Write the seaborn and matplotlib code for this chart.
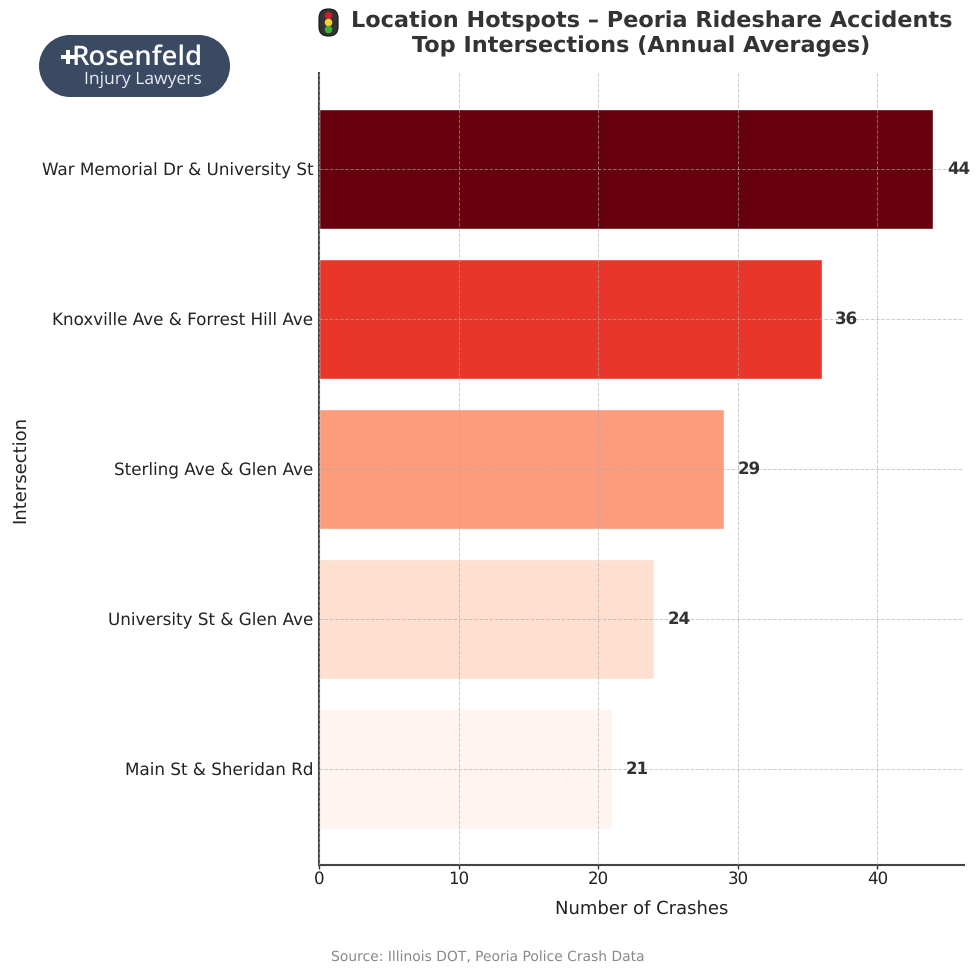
import pandas as pd
import matplotlib.pyplot as plt
import seaborn as sns
from matplotlib.patches import Circle, Rectangle, FancyBboxPatch

intersections = ["War Memorial Dr & University St", "Knoxville Ave & Forrest Hill Ave",
                 "Sterling Ave & Glen Ave", "University St & Glen Ave", "Main St & Sheridan Rd"]
crashes = [44, 36, 29, 24, 21]
bar_colors = ["#67000d", "#e9362b", "#fc9c7d", "#fedfd0", "#fff5f0"]

W = H = 980
df = pd.DataFrame({"Intersection": intersections, "Crashes": crashes})

sns.set_theme(style="white")
plt.rcParams['font.family'] = ['DejaVu Sans']
plt.rcParams['text.hinting'] = 'no_hinting'

fig = plt.figure(figsize=(9.8, 9.8), dpi=100)
ax = fig.add_axes([319 / W, 1 - 865 / H, 645 / W, 792 / H])

sns.barplot(data=df, x="Crashes", y="Intersection", hue="Intersection",
            palette=bar_colors, width=0.805, saturation=1, legend=False, ax=ax)

ax.set_xlim(0, 46.2)
ax.set_ylim(4.64, -0.64)
ax.set_axisbelow(False)
ax.grid(True, color="#aaaaaa", linestyle="--", linewidth=0.7, alpha=0.6)
ax.set_xticks([0, 10, 20, 30, 40])
ax.tick_params(axis="x", labelsize=12, length=3, width=1, color="#333333",
               labelcolor="#222222", bottom=True, pad=1.5)
ax.tick_params(axis="y", labelsize=12.1, length=0, labelcolor="#222222", left=False, pad=4)
ax.set_xlabel("Number of Crashes", fontsize=13, color="#222222")
ax.set_ylabel("Intersection", fontsize=13, color="#222222")
ax.xaxis.set_label_coords(0.5, -35 / 792)
ax.yaxis.set_label_coords(-290 / 645, 0.5)
sns.despine(ax=ax)
for side in ["left", "bottom"]:
    ax.spines[side].set_color("#444444")
    ax.spines[side].set_linewidth(1.5)

for i, val in enumerate(crashes):
    ax.text(val + 0.97, i, str(val), va="center", ha="left", fontsize=12,
            fontweight="bold", color="#333333")

# title and source
fig.text(652 / W, 1 - 21 / H, "Location Hotspots – Peoria Rideshare Accidents", ha="center", va="center",
         fontsize=16.1, fontweight="bold", color="#333333")
fig.text(641 / W, 1 - 46 / H, "Top Intersections (Annual Averages)", ha="center", va="center",
         fontsize=16.1, fontweight="bold", color="#333333")
fig.text(488 / W, 1 - 958 / H, "Source: Illinois DOT, Peoria Police Crash Data", ha="center", va="center",
         fontsize=10, color="#888888")

# overlay in pixel coordinates for logo and traffic light
over = fig.add_axes([0, 0, 1, 1], facecolor="none")
over.set_xlim(0, W)
over.set_ylim(H, 0)
over.axis("off")

logo_color = "#3a4a63"
over.add_patch(Rectangle((70, 35), 129, 62, facecolor=logo_color, edgecolor="none"))
over.add_patch(Circle((70, 66), 31, facecolor=logo_color, edgecolor="none"))
over.add_patch(Circle((199, 66), 31, facecolor=logo_color, edgecolor="none"))
over.add_patch(Rectangle((61, 55), 14, 4, facecolor="white", edgecolor="none"))
over.add_patch(Rectangle((66, 50), 4, 14, facecolor="white", edgecolor="none"))
over.text(71, 58, "Rosenfeld", fontsize=19.7, fontweight="semibold", color="white",
          ha="left", va="center", family="Open Sans")
over.text(202, 80, "Injury Lawyers", fontsize=12.6, color="#e8ebf0", ha="right", va="center", family="Open Sans")

over.add_patch(FancyBboxPatch((319, 9), 19, 27, boxstyle="round,pad=0,rounding_size=9",
                              facecolor="#333333", edgecolor="#111111", linewidth=0.8))
for cy, c in [(15.5, "#c8202c"), (22.5, "#f4d22c"), (29.5, "#3cae3c")]:
    over.add_patch(Circle((328.5, cy), 3.8, facecolor=c, edgecolor="none"))

plt.savefig("out.png", dpi=100)
